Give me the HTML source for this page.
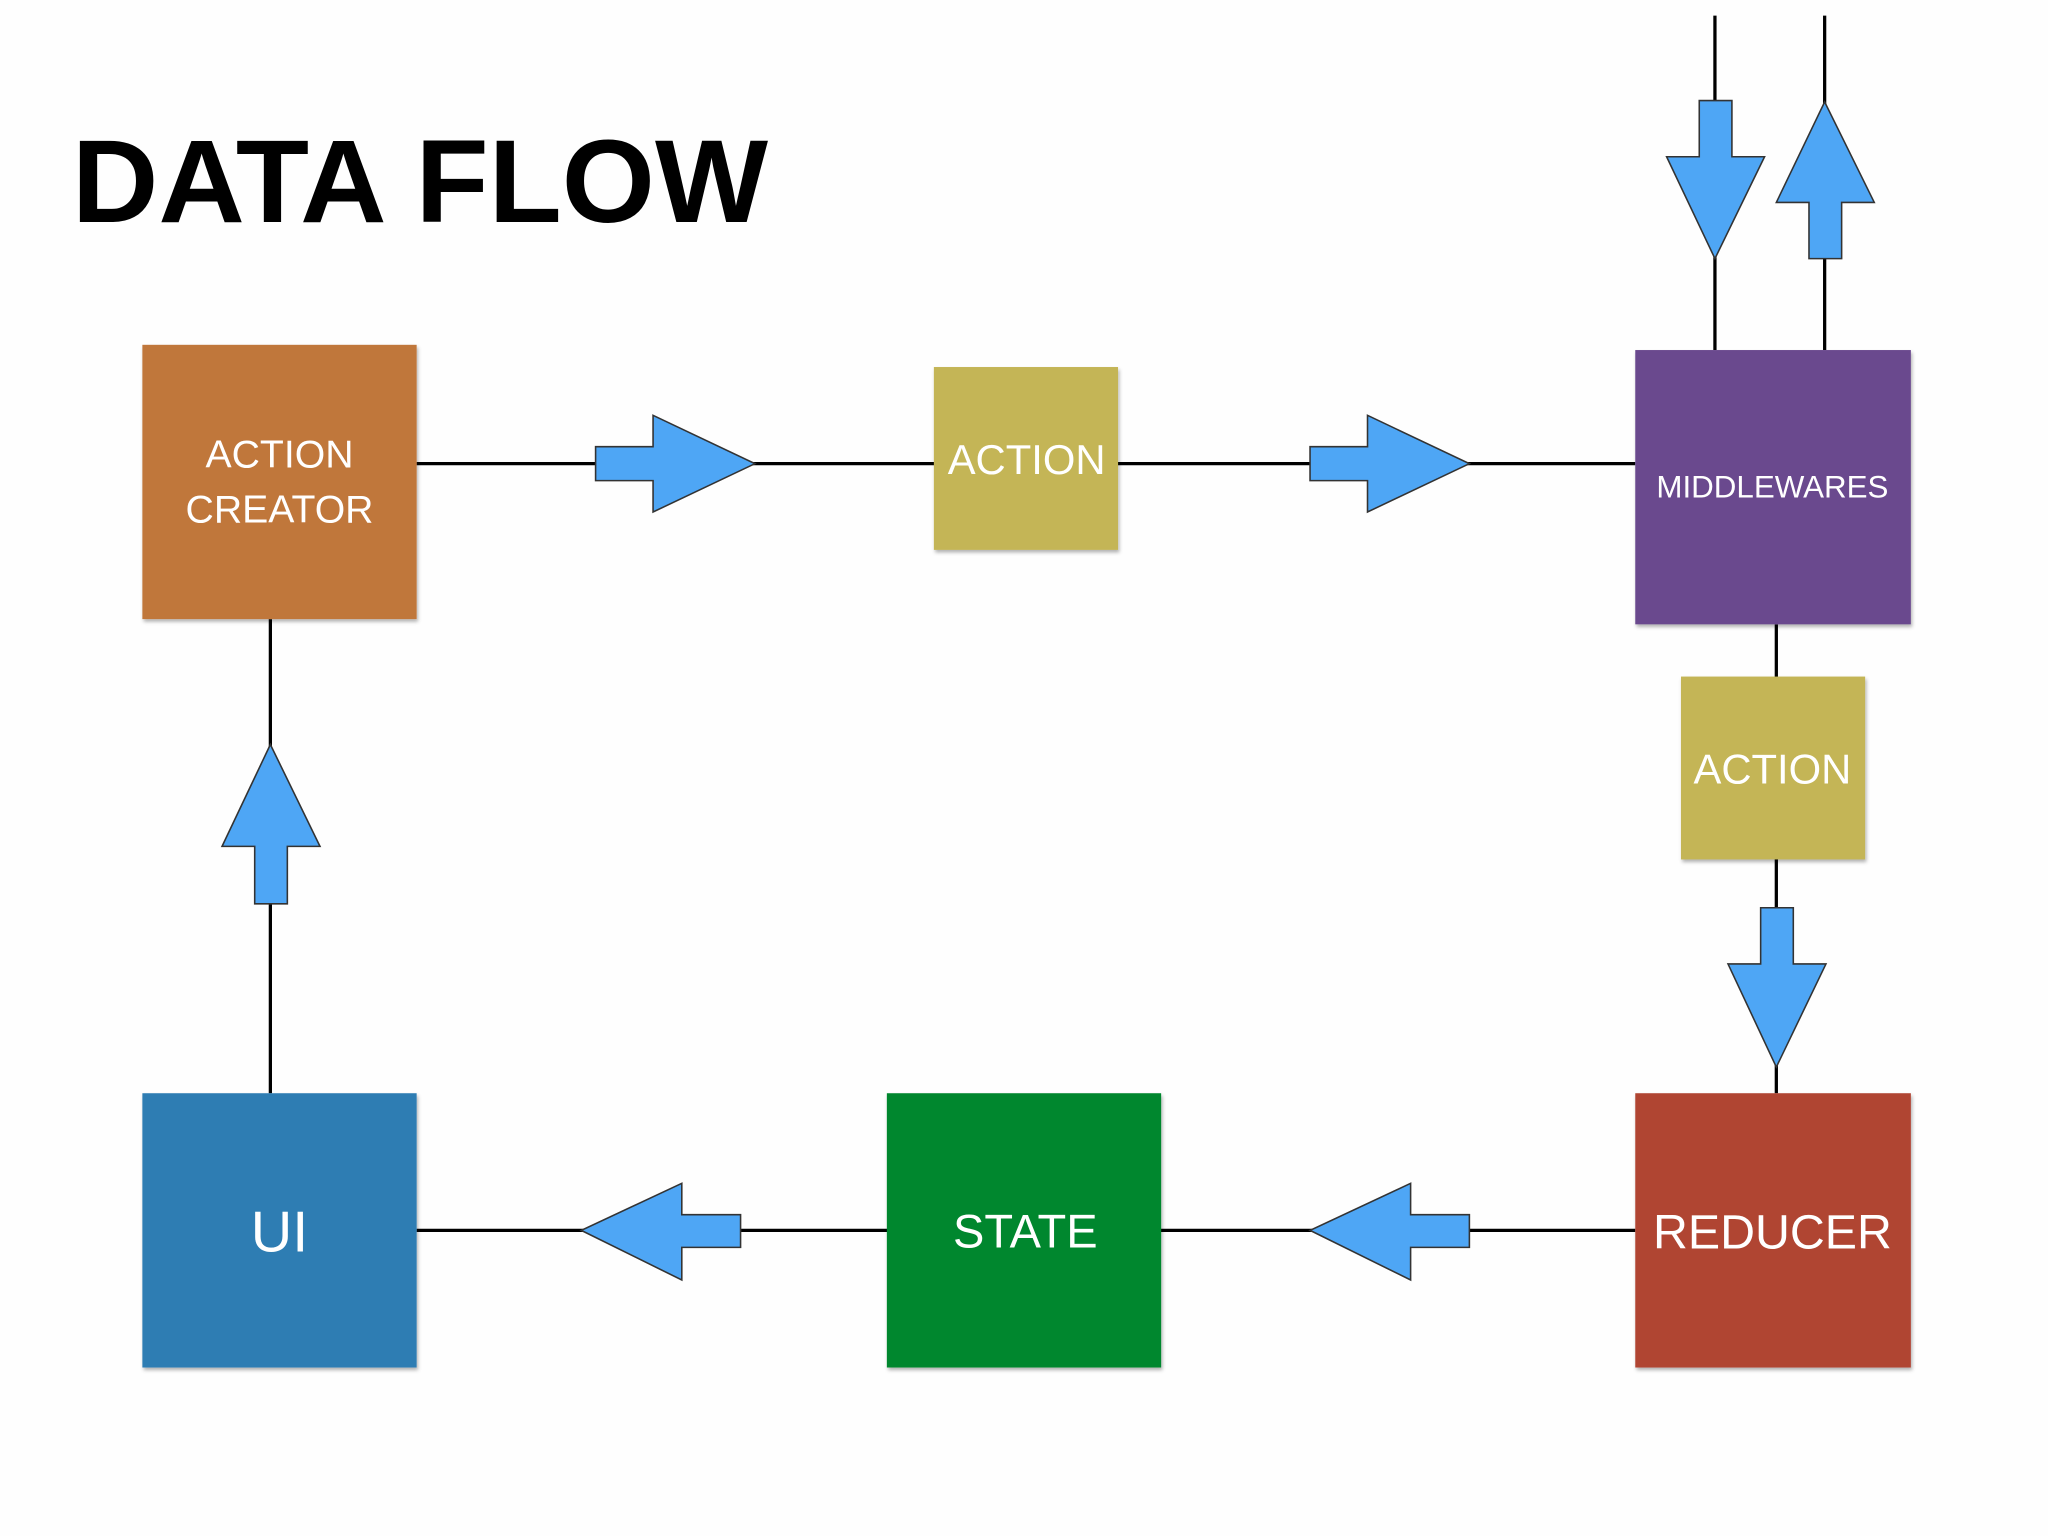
<!DOCTYPE html>
<html><head><meta charset="utf-8"><style>
html,body{margin:0;padding:0;background:#fefefe;}
svg{display:block;}
text{font-family:"Liberation Sans",sans-serif;fill:#fff;text-anchor:middle;}
</style></head><body>
<svg width="2048" height="1536" viewBox="0 0 1568 1176" preserveAspectRatio="none">
<defs><filter id="s" x="-5%" y="-5%" width="115%" height="115%"><feDropShadow dx="1" dy="2" stdDeviation="1.5" flood-opacity="0.3"/></filter></defs>
<text x="55" y="170" style="fill:#000;text-anchor:start;font-weight:bold;font-size:90px" textLength="533" lengthAdjust="spacingAndGlyphs">DATA FLOW</text>
<g stroke="#000" stroke-width="2.5" fill="none">
<line x1="319" y1="355" x2="1252" y2="355"/>
<line x1="319" y1="942" x2="1252" y2="942"/>
<line x1="207" y1="474" x2="207" y2="837"/>
<line x1="1360" y1="478" x2="1360" y2="837"/>
<line x1="1313" y1="12" x2="1313" y2="268"/>
<line x1="1397" y1="12" x2="1397" y2="268"/>
</g>
<g fill="#4ea6f5" stroke="#333" stroke-width="1.2">
<polygon points="456,342 500,342 500,318 578,355 500,392 500,368 456,368"/>
<polygon points="1003,342 1047,342 1047,318 1125,355 1047,392 1047,368 1003,368"/>
<polygon points="567,930 522,930 522,906 445,942 522,980 522,955 567,955"/>
<polygon points="1125,930 1080,930 1080,906 1003,942 1080,980 1080,955 1125,955"/>
<polygon points="195,692 195,648 170,648 207,570 245,648 220,648 220,692"/>
<polygon points="1348,695 1373,695 1373,738 1398,738 1360,817 1323,738 1348,738"/>
<polygon points="1301,77 1326,77 1326,120 1351,120 1313,198 1276,120 1301,120"/>
<polygon points="1385,198 1385,155 1360,155 1397,78 1435,155 1410,155 1410,198"/>
</g>
<g filter="url(#s)">
<rect x="109" y="264" width="210" height="210" fill="#c0773a"/>
<rect x="715" y="281" width="141" height="140" fill="#c4b557"/>
<rect x="1252" y="268" width="211" height="210" fill="#6b4a8e"/>
<rect x="1287" y="518" width="141" height="140" fill="#c4b557"/>
<rect x="109" y="837" width="210" height="210" fill="#2e7db3"/>
<rect x="679" y="837" width="210" height="210" fill="#05872f"/>
<rect x="1252" y="837" width="211" height="210" fill="#b04432"/>
</g>
<text x="214" y="358" font-size="30">ACTION</text>
<text x="214" y="400" font-size="30">CREATOR</text>
<text x="786" y="363" font-size="32">ACTION</text>
<text x="1357" y="381" font-size="24">MIDDLEWARES</text>
<text x="1357" y="600" font-size="32">ACTION</text>
<text x="214" y="958" font-size="44">UI</text>
<text x="785" y="955" font-size="36">STATE</text>
<text x="1357" y="956" font-size="37">REDUCER</text>
</svg>
</body></html>
